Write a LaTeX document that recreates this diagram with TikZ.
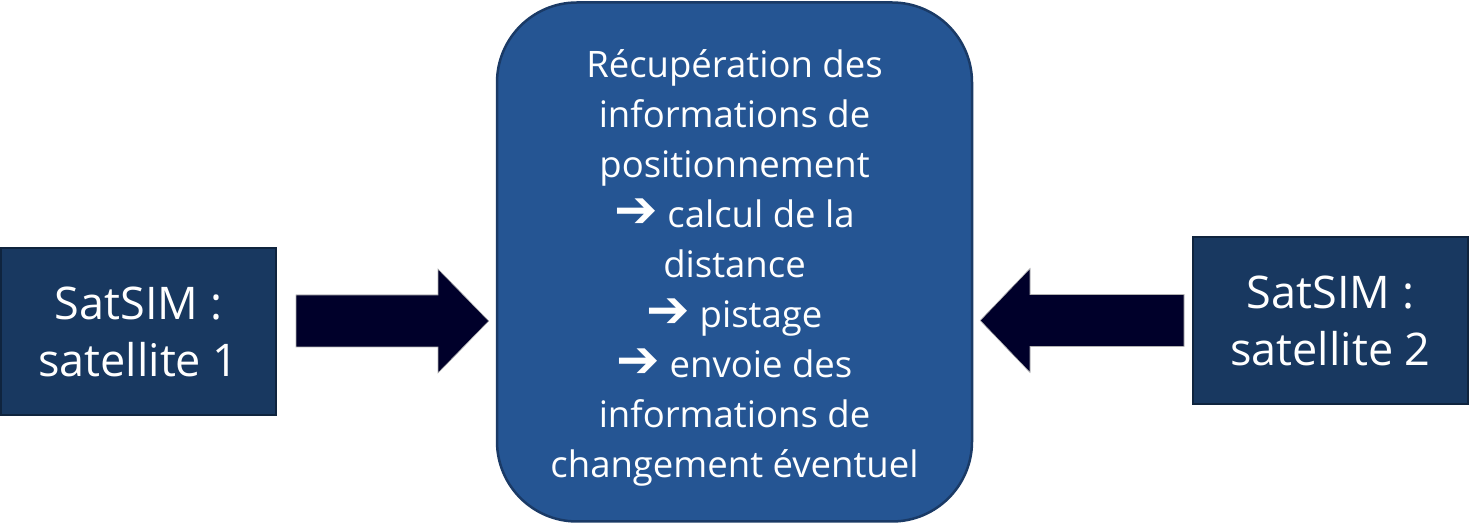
\documentclass[tikz,border=0pt]{standalone}
\usepackage{fontspec}
\setmainfont{Open Sans}
\newfontfamily\arrowfont{DejaVu Sans}
\usetikzlibrary{positioning, calc}

\definecolor{satfill}{RGB}{24,56,96}
\definecolor{satline}{RGB}{15,36,62}
\definecolor{mainfill}{RGB}{37,85,147}
\definecolor{mainline}{RGB}{26,58,102}
\definecolor{arrowfill}{RGB}{0,0,42}

\newcommand{\fleche}{\smash{\arrowfont\bfseries\fontsize{52}{52}\selectfont ➔}}

\tikzset{
	satbox/.style={draw=satline, line width=2pt, fill=satfill, text=white, align=center,
		minimum width=275pt, minimum height=167pt, inner sep=0pt,
		font=\fontsize{45}{57}\selectfont},
	mainbox/.style={draw=mainline, line width=2.5pt, fill=mainfill,
		rounded corners=80pt, minimum width=475pt, minimum height=519pt, inner sep=0pt},
	maintext/.style={text=white, align=center, inner sep=0pt, font=\fontsize{36.5}{50}\selectfont},
	blockarrow/.style={fill=arrowfill, draw=gray!60, line width=0.6pt, line join=miter},
}

\begin{document}
\begin{tikzpicture}[x=1pt, y=1pt]
	\useasboundingbox (0,0) rectangle (1469,524);
	% blocs
	\node[mainbox] (centre) at (734.5,262) {};
	\node[maintext] (centretext) at ([yshift=-6pt]centre.center) {Récupération des\\informations de\\positionnement\\
		\fleche{} calcul de la\\distance\\\fleche{} pistage\\\fleche{} envoie des\\informations de\\changement éventuel};
	\node[satbox] (sat1) at (138.5,192) {SatSIM :\\satellite 1};
	\node[satbox] (sat2) at (1330.5,203.5) {SatSIM :\\satellite 2};
	% fleches
	\coordinate (a1) at ($(sat1.east |- 0,203)+(19,0)$);
	\coordinate (a2) at ($(sat2.west |- 0,203.5)+(-8,0)$);
	\path[blockarrow] ($(a1)+(0,26)$) -- ++(142,0) -- ++(0,26) -- ($(centre.west |- a1)+(-7,0)$)
		-- ($(a1)+(142,-52)$) -- ++(0,26) -- ++(-142,0) -- cycle;
	\path[blockarrow] ($(a2)+(0,26)$) -- ++(-154,0) -- ++(0,26) -- ($(centre.east |- a2)+(7,0)$)
		-- ($(a2)+(-154,-52)$) -- ++(0,26) -- ++(154,0) -- cycle;
\end{tikzpicture}
\end{document}
